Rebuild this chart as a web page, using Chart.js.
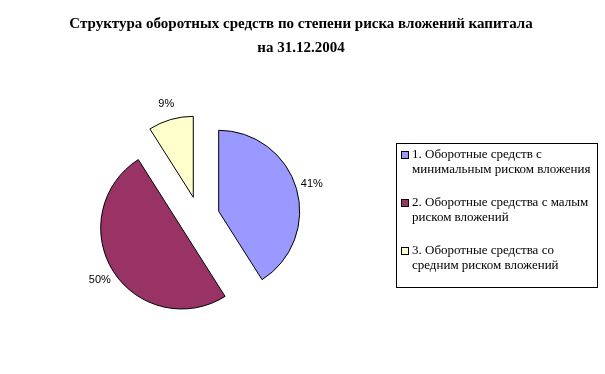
<!DOCTYPE html>
<html>
<head>
<meta charset="utf-8">
<script src="https://cdn.jsdelivr.net/npm/chart.js@4"></script>
<style>
    html, body { margin: 0; padding: 0; background: #fff; }
    #wrap { width: 605px; height: 374px; }
</style>
</head>
<body>
<div id="wrap"><canvas id="riskChart" width="605" height="374"></canvas></div>
<script>
// ============================================
// ДАННЫЕ
// ============================================

const titleLines = ['Структура оборотных средств по степени риска вложений капитала', 'на 31.12.2004'];
const categories = [
    ['1. Оборотные средств с', 'минимальным риском вложения'],
    ['2. Оборотные средства с малым', 'риском вложений'],
    ['3. Оборотные средства со', 'средним риском вложений']
];
const shares = [41, 50, 9];
const sliceColors = ['#9999FF', '#993366', '#FFFFCC'];

// насколько каждый сектор выдвинут от центра, px
const explodeShift = 20.5;

// ============================================
// ВЫДВИНУТЫЕ СЕКТОРЫ
// ============================================
// штатный offset у Chart.js ещё и увеличивает радиус сектора,
// поэтому просто сдвигаем каждую дугу вдоль её биссектрисы
const baseArcDraw = Chart.ArcElement.prototype.draw;
Chart.ArcElement.prototype.draw = function(ctx) {
    const mid = (this.startAngle + this.endAngle) / 2;
    ctx.save();
    ctx.translate(Math.cos(mid) * explodeShift, Math.sin(mid) * explodeShift);
    baseArcDraw.call(this, ctx);
    ctx.restore();
};

// ============================================
// ПЛАГИНЫ
// ============================================

const titlePlugin = {
    id: 'excelTitle',
    afterDraw(chart) {
        const ctx = chart.ctx;
        ctx.save();
        ctx.fillStyle = '#000';
        ctx.font = 'bold 15px "Liberation Serif", "Times New Roman", serif';
        ctx.textAlign = 'center';
        ctx.textBaseline = 'middle';
        ctx.fillText(titleLines[0], 301, 24);
        ctx.fillText(titleLines[1], 301, 48);
        ctx.restore();
    }
};

const percentLabels = {
    id: 'percentLabels',
    afterDatasetsDraw(chart) {
        const ctx = chart.ctx;
        const meta = chart.getDatasetMeta(0);
        const total = shares.reduce((a, b) => a + b, 0);
        ctx.save();
        ctx.fillStyle = '#000';
        ctx.font = '11px "Liberation Sans", Arial, sans-serif';
        ctx.textAlign = 'center';
        ctx.textBaseline = 'middle';
        meta.data.forEach((arc, i) => {
            const p = arc.getProps(['x', 'y', 'startAngle', 'endAngle', 'outerRadius'], true);
            const mid = (p.startAngle + p.endAngle) / 2;
            const r = explodeShift + p.outerRadius + 16;
            const text = Math.round(shares[i] / total * 100) + '%';
            ctx.fillText(text, p.x + Math.cos(mid) * r, p.y + Math.sin(mid) * r);
        });
        ctx.restore();
    }
};

const boxedLegend = {
    id: 'boxedLegend',
    afterDraw(chart) {
        const ctx = chart.ctx;
        const left = 396, top = 143, right = 597, bottom = 287;
        ctx.save();
        ctx.strokeStyle = '#000';
        ctx.lineWidth = 1;
        ctx.strokeRect(left + 0.5, top + 0.5, right - left, bottom - top);

        ctx.font = '13px "Liberation Serif", "Times New Roman", serif';
        ctx.textAlign = 'left';
        ctx.textBaseline = 'middle';
        const labels = chart.data.labels;
        labels.forEach((lines, i) => {
            const y0 = 155 + i * 48;
            ctx.fillStyle = sliceColors[i];
            ctx.fillRect(401, y0 - 4, 8, 8);
            ctx.strokeStyle = '#000';
            ctx.strokeRect(401.5, y0 - 3.5, 7, 7);
            ctx.fillStyle = '#000';
            lines.forEach((line, j) => {
                ctx.fillText(line, 412, y0 + j * 15);
            });
        });
        ctx.restore();
    }
};

// ============================================
// ГРАФИК
// ============================================

function createRiskChart() {
    const ctx = document.getElementById('riskChart');

    new Chart(ctx, {
        type: 'pie',
        data: {
            labels: categories,
            datasets: [{
                data: shares,
                backgroundColor: sliceColors,
                borderColor: '#000',
                borderWidth: 1
            }]
        },
        options: {
            responsive: false,
            animation: false,
            radius: 81,
            layout: {
                padding: { left: 100, right: 307, top: 117, bottom: 57 }
            },
            plugins: {
                legend: { display: false },
                title: { display: false },
                tooltip: { enabled: false }
            }
        },
        plugins: [titlePlugin, percentLabels, boxedLegend]
    });
}

document.addEventListener('DOMContentLoaded', createRiskChart);
</script>
</body>
</html>
